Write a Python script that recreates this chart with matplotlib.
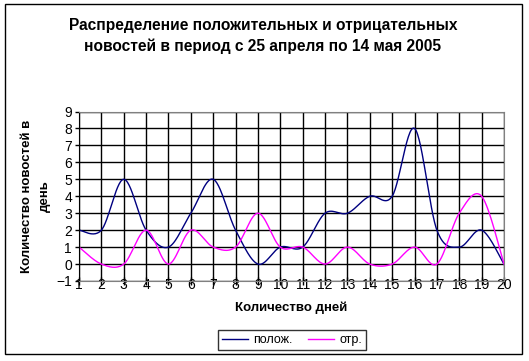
import numpy as np
import matplotlib
matplotlib.use("Agg")
import matplotlib.pyplot as plt
from matplotlib.patches import Rectangle

plt.rcParams['font.family'] = ['Liberation Sans', 'DejaVu Sans']

# data
days = list(range(1, 21))
polozh = [2, 2, 5, 2, 1, 3, 5, 2, 0, 1, 1, 3, 3, 4, 4, 8, 2, 1, 2, 0]
otr = [1, 0, 0, 2, 0, 2, 1, 1, 3, 1, 1, 0, 1, 0, 0, 1, 0, 3, 4, 0]

title = "Распределение положительных и отрицательных\nновостей в период с 25 апреля по 14 мая 2005"
xlab = "Количество дней"
ylab = "Количество новостей в\nдень"


# smoothed line like Excel (bezier through points, catmull-rom tangents)
def smooth(x, y, n=30):
    x = np.array(x, dtype=float)
    y = np.array(y, dtype=float)
    P = np.column_stack([x, y])
    Pe = np.vstack([P[0], P, P[-1]])
    out = []
    t = np.linspace(0, 1, n)
    for i in range(len(P) - 1):
        p0 = Pe[i + 1]
        p3 = Pe[i + 2]
        p1 = p0 + (Pe[i + 2] - Pe[i]) / 6.
        p2 = p3 - (Pe[i + 3] - Pe[i + 1]) / 6.
        seg = (np.outer((1 - t)**3, p0) + np.outer(3 * (1 - t)**2 * t, p1)
               + np.outer(3 * (1 - t) * t**2, p2) + np.outer(t**3, p3))
        out.append(seg)
    out = np.vstack(out)
    return out[:, 0], out[:, 1]


fig = plt.figure(figsize=[5.29, 3.61], dpi=100)
ax = fig.add_axes([79/529, 1-281/361, 425/529, 169.5/361])

xs, ys = smooth(days, polozh)
l1, = ax.plot(xs, ys, color='#000080', lw=1, label='полож.')
xs, ys = smooth(days, otr)
l2, = ax.plot(xs, ys, color='#FF00FF', lw=1, label='отр.')

ax.set_xlim(1, 20)
ax.set_ylim(-1, 9)
ax.set_xticks(days)
ax.set_yticks(range(-1, 10))
ax.grid(True, color='black', lw=1)
ax.set_axisbelow(True)
for s in ['top', 'right', 'bottom']:
    ax.spines[s].set_color('#808080')
ax.spines['left'].set_color('black')
ax.tick_params(axis='y', labelsize=10, length=3, width=1, pad=2)
# x ticks cross the axis, labels sit right on it (Excel look)
ax.tick_params(axis='x', labelsize=10, length=6, width=1, direction='inout', pad=-5.5)

ax.set_xlabel(xlab, fontsize=9.5, fontweight='bold', labelpad=7)
fig.text(36/529, 1-196/361, ylab, rotation=90, ha='center', va='center',
         multialignment='center',
         fontsize=9.5, fontweight='bold', linespacing=1.6)

fig.text(263/529, 1-36/361, title, ha='center', va='center',
         fontsize=11.2, fontweight='bold', linespacing=1.45)

leg = fig.legend(handles=[l1, l2], loc='center', bbox_to_anchor=(292/529, 1-340/361),
                 ncol=2, fontsize=9, frameon=True, fancybox=False,
                 handlelength=2.1, handletextpad=0.4, columnspacing=1.2,
                 borderpad=0.3, borderaxespad=0)
leg.get_frame().set_edgecolor('black')
leg.get_frame().set_linewidth(1)

fig.patches.append(Rectangle((5/529, 1-354/361), 517/529, 350/361,
                             transform=fig.transFigure, fill=False,
                             edgecolor='black', lw=1))

fig.savefig('out.png', dpi=100)
